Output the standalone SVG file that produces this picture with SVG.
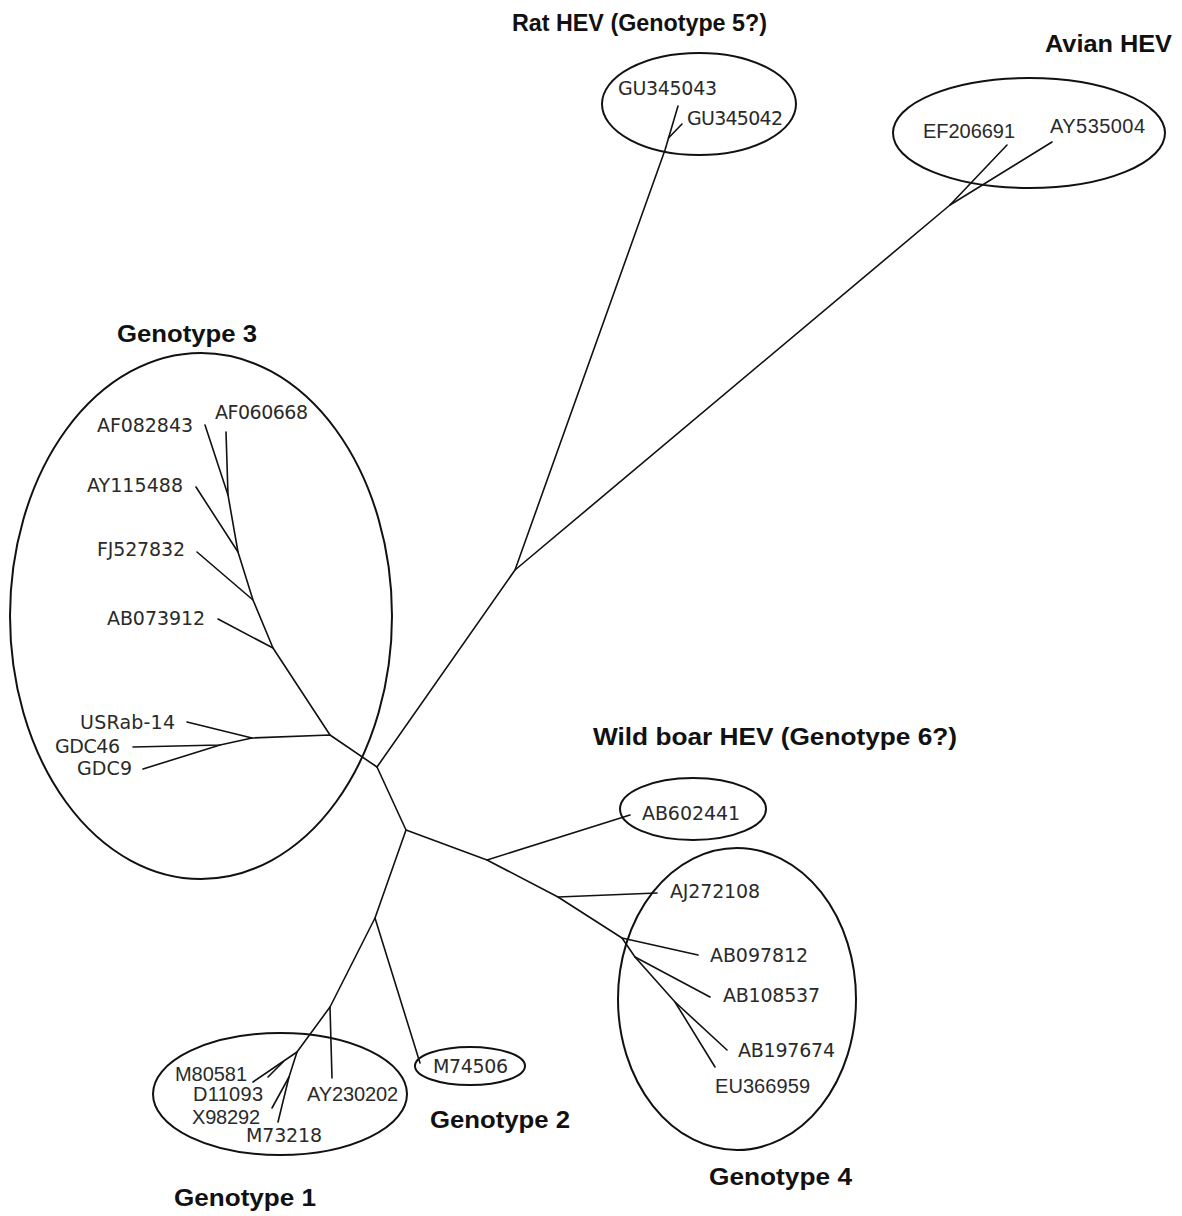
<svg xmlns="http://www.w3.org/2000/svg" width="1182" height="1216" viewBox="0 0 1182 1216">
<style>
.t{font-family:"Liberation Sans",Arial,sans-serif;font-weight:bold;font-size:24px;fill:#111}
.d{font-family:"DejaVu Sans",sans-serif;font-size:19px;fill:#2a2a2a}
.a{font-family:"Liberation Sans",Arial,sans-serif;font-size:20px;fill:#2a2a2a}
.e{fill:none;stroke:#111;stroke-width:2}
.br{fill:none;stroke:#111;stroke-width:1.6;stroke-linejoin:round;stroke-linecap:round}
</style>
<rect width="1182" height="1216" fill="#fff"/>
<g id="connectors" class="br">
<path d="M377,767 L515,570 L665,150 L678,106"/>
<path d="M668.5,138 L682,124"/>
<path d="M515,570 L950,205 L1007,145"/>
<path d="M950,205 L1052,142"/>
<path d="M377,767 L330,735 L252,738 L187,722"/>
<path d="M252,738 L220,745 L133,747"/>
<path d="M220,745 L143,769"/>
<path d="M330,735 L273,648 L253,600 L238,552 L228,495 L205,425"/>
<path d="M273,648 L218,619"/>
<path d="M253,600 L197,552"/>
<path d="M238,552 L196,487"/>
<path d="M228,495 L226,432"/>
<path d="M377,767 L406,830 L487,860 L630,815"/>
<path d="M487,860 L558,897 L657,893"/>
<path d="M558,897 L622,938 L698,955"/>
<path d="M622,938 L635,957 L710,997"/>
<path d="M635,957 L675,1002 L727,1050"/>
<path d="M675,1002 L715,1067"/>
<path d="M406,830 L375,918 L420,1063"/>
<path d="M375,918 L330,1007 L332,1078"/>
<path d="M330,1007 L297,1052 L253,1082"/>
<path d="M283,1062 L268,1077"/>
<path d="M297,1052 L289,1077 L278,1122"/>
<path d="M289,1077 L272,1108"/>
</g>
<g id="rat-hev">
<ellipse class="e" cx="699" cy="104" rx="97" ry="51"/>
<text class="t" x="512" y="31" textLength="255" lengthAdjust="spacingAndGlyphs">Rat HEV (Genotype 5?)</text>
<text class="d" x="618" y="95" textLength="99">GU345043</text>
<text class="d" x="687" y="125" textLength="96">GU345042</text>
</g>
<g id="avian-hev">
<ellipse class="e" cx="1029" cy="133" rx="136" ry="55"/>
<text class="t" x="1045" y="52" textLength="127" lengthAdjust="spacingAndGlyphs">Avian HEV</text>
<text class="a" x="923" y="138" textLength="92">EF206691</text>
<text class="a" x="1050" y="133" textLength="95">AY535004</text>
</g>
<g id="genotype-3">
<ellipse class="e" cx="201" cy="616" rx="191" ry="263"/>
<text class="t" x="117" y="342" textLength="140" lengthAdjust="spacingAndGlyphs">Genotype 3</text>
<text class="d" x="97" y="432" textLength="96">AF082843</text>
<text class="d" x="215" y="419" textLength="93">AF060668</text>
<text class="d" x="87" y="492" textLength="96">AY115488</text>
<text class="d" x="97" y="556" textLength="88">FJ527832</text>
<text class="d" x="107" y="625" textLength="98">AB073912</text>
<text class="d" x="80" y="729" textLength="95">USRab-14</text>
<text class="d" x="55" y="753" textLength="65">GDC46</text>
<text class="d" x="77" y="775" textLength="55">GDC9</text>
</g>
<g id="wild-boar-hev">
<ellipse class="e" cx="693" cy="809" rx="73" ry="31"/>
<text class="t" x="593" y="745" textLength="364" lengthAdjust="spacingAndGlyphs">Wild boar HEV (Genotype 6?)</text>
<text class="d" x="642" y="820" textLength="98">AB602441</text>
</g>
<g id="genotype-4">
<ellipse class="e" cx="737" cy="999" rx="119" ry="151"/>
<text class="t" x="709" y="1185" textLength="143" lengthAdjust="spacingAndGlyphs">Genotype 4</text>
<text class="d" x="670" y="898" textLength="90">AJ272108</text>
<text class="d" x="710" y="962" textLength="98">AB097812</text>
<text class="d" x="723" y="1002" textLength="97">AB108537</text>
<text class="d" x="738" y="1057" textLength="97">AB197674</text>
<text class="a" x="715" y="1093" textLength="95">EU366959</text>
</g>
<g id="genotype-1">
<ellipse class="e" cx="280" cy="1094" rx="127" ry="61"/>
<text class="t" x="174" y="1206" textLength="142" lengthAdjust="spacingAndGlyphs">Genotype 1</text>
<text class="a" x="175" y="1081" textLength="72">M80581</text>
<text class="a" x="193" y="1101" textLength="70">D11093</text>
<text class="a" x="192" y="1124" textLength="68">X98292</text>
<text class="d" x="246" y="1142" textLength="76">M73218</text>
<text class="a" x="307" y="1101" textLength="91">AY230202</text>
</g>
<g id="genotype-2">
<ellipse class="e" cx="470" cy="1066" rx="55" ry="19"/>
<text class="t" x="430" y="1128" textLength="140" lengthAdjust="spacingAndGlyphs">Genotype 2</text>
<text class="d" x="433" y="1073" textLength="75">M74506</text>
</g>
</svg>
